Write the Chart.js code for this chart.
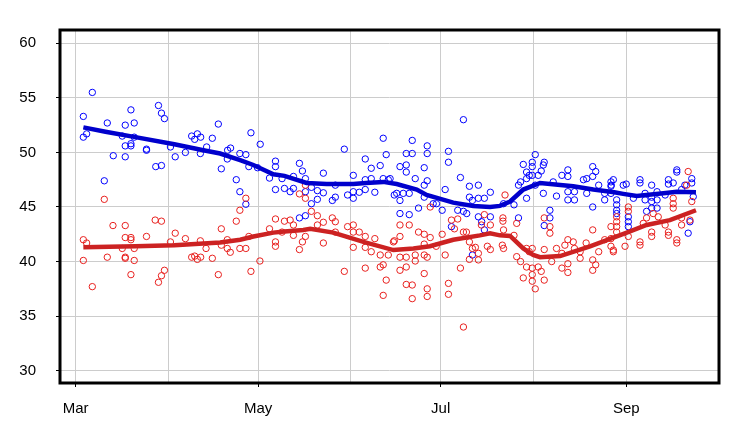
<!DOCTYPE html>
<html>
<head>
<meta charset="utf-8">
<script src="https://cdn.jsdelivr.net/npm/chart.js@4.4.1/dist/chart.umd.min.js"></script>
<style>
html,body{margin:0;padding:0;background:#fff;}
#wrap{width:750px;height:444px;}
</style>
</head>
<body>
<div id="wrap"><canvas id="c" width="750" height="444"></canvas></div>
<script>
// x values are days since March 1
const monthDays = [0, 31, 61, 92, 122, 153, 184];
const monthLabels = ['Mar', '', 'May', '', 'Jul', '', 'Sep'];
const yTicks = [30, 35, 40, 45, 50, 55, 60];

const bluePollDays = [5.6,2.6,2.6,3.7,10.6,18.5,16.6,19.6,15.6,16.6,18.5,18.5,19.6,23.7,23.7,12.6,16.6,27.7,28.7,29.7,26.8,28.7,31.7,33.3,9.6,36.7,38.8,39.8,40.7,41.8,41.7,43.8,45.7,47.7,48.7,50.7,50.8,51.8,54.9,56.9,58.6,57.9,60.8,61.7,53.7,54.9,56.9,64.8,66.8,66.8,66.8,69.0,69.8,71.7,72.8,72.8,74.8,75.8,76.8,76.8,76.8,74.8,78.8,78.8,80.8,80.8,82.8,82.8,85.8,86.8,86.8,89.8,90.9,92.8,92.8,92.8,94.8,96.8,96.8,96.8,98.8,98.8,100,101.8,102.8,103.8,102.8,104.5,106.5,105.1,107.3,108.4,108.4,108.4,109.5,110.5,110.5,110.5,111.5,111.5,112.5,112.5,113.5,114.6,116.5,116.5,117.5,117.5,117.5,116.5,119.5,120.6,122.5,123.5,124.6,124.6,125.6,127.7,128.6,129.6,129.6,130.7,131.6,131.6,132.6,132.6,134.6,134.6,134.6,136.6,138.6,138.6,135.7,136.6,143,146.5,148,148,148.7,149.6,150.7,150.7,150.7,151.6,152.6,152.6,152.6,153.6,153.6,154.6,155.6,156.3,156.6,156.3,158.5,158.5,156.6,159.6,160.7,162.5,164.5,164.5,164.5,164.5,166.7,166.7,169.7,170.8,170.8,172.8,173.8,172.8,172.8,174.8,176.8,176.8,178.9,178.9,178.9,179.7,179,180.8,180.8,180.8,180.8,183,184,184.7,184.7,184.7,186.4,188.6,188.6,190.3,190.3,190.8,192.5,192.5,192.5,192.5,194.3,194.3,194.3,197,198.1,198.1,199.7,200.9,200.9,202.5,203.6,205.9,205.9,206.4,204.7,205.3];
const bluePollValues = [55.5,53.3,51.4,51.7,52.7,53.9,52.5,52.7,51.5,50.6,50.8,50.6,51.4,50.3,50.2,49.7,49.6,54.3,53.6,53.1,48.7,48.8,50.5,49.6,47.4,50.0,51.5,51.2,51.7,51.4,49.9,50.5,51.3,52.6,48.5,49.4,50.2,50.4,49.9,49.8,51.8,48.7,48.6,50.75,47.5,46.4,45.25,47.65,49.2,48.7,46.6,47.6,46.7,46.4,47.8,46.7,49.0,48.3,47.6,46.4,44.2,44.0,45.3,46.8,46.5,45.7,48.1,46.3,45.6,47.0,45.9,50.3,46.1,47.9,46.4,45.8,46.35,49.4,47.5,46.6,48.55,47.6,46.35,48.8,51.3,49.8,47.6,47.5,46.1,47.6,46.25,48.7,45.6,44.4,46.25,49.9,48.85,48.2,46.25,44.3,51.1,49.9,47.6,44.9,48.6,47.0,50.6,49.9,47.4,45.9,45.3,45.3,44.7,46.6,50.1,49.1,43.2,44.7,47.7,53.0,44.6,44.4,46.9,45.9,45.6,40.6,47.0,45.8,44.1,45.8,46.35,44.1,43.65,42.9,45.3,45.2,47.0,44.0,47.3,48.9,48.2,47.6,45.8,47.9,49.1,48.7,47.9,49.8,47.0,47.9,48.3,48.85,49.1,46.25,44.7,44.0,43.3,47.3,46.0,47.9,48.4,47.8,46.4,45.65,46.4,45.65,47.5,47.6,46.25,48.7,48.25,47.8,45.0,47.0,46.25,45.65,47.3,46.9,46.25,47.5,47.0,45.65,45.2,44.7,44.4,47.0,47.1,44.1,43.65,43.2,45.8,47.5,47.2,46.25,45.65,44.6,47.0,45.9,45.5,44.9,46.4,45.65,44.9,46.1,47.5,47.1,47.2,48.4,48.2,46.6,47.0,47.6,47.2,45.95,42.6,43.65];

const redPollDays = [9.6,12.5,16.6,26.6,28.7,2.6,3.7,16.6,18.5,18.5,23.7,15.6,19.6,31.7,33.3,2.6,10.6,16.6,16.6,19.6,18.5,5.6,29.7,28.7,27.7,36.7,41.7,43.6,38.8,39.8,40.7,41.8,45.7,47.7,48.7,48.7,50.7,50.7,51.7,54.9,56.9,57.9,58.6,61.6,53.7,54.9,56.9,64.8,66.8,66.8,66.8,69.8,69.0,71.7,72.8,72.8,74.8,76.8,76.8,78.8,80.8,80.8,82.8,75.8,74.8,76.8,82.8,85.8,86.8,86.8,89.8,90.9,92.8,92.8,92.8,94.8,96.8,96.8,96.8,98.8,100,101.8,101.8,102.8,103.8,102.8,104.5,106.5,108.4,108.4,108.4,110.5,110.5,110.5,111.5,112.5,112.5,113.5,113.5,108.4,106.2,114.6,116.5,116.5,116.5,116.5,117.5,117.5,117.5,118.5,118.5,120.5,122.5,123.5,124.6,124.6,125.6,126.6,127.7,128.6,129.6,129.6,130.6,131.6,131.6,132.6,133.6,134.6,134.6,135.6,136.6,137.6,138.6,138.6,142.6,143.5,142.8,142.8,143,143,146.5,147.4,147.4,148.7,149.6,150.7,150.7,151.6,152.6,152.6,152.6,152.6,153.6,154.6,155.6,156.6,156.6,156.6,158.5,158.5,159.1,160.7,162.5,162.5,163.5,164.5,164.5,164.5,166.3,166.7,168.6,168.6,170.6,172.8,172.8,172.8,174.8,173.8,176.8,178.9,178.9,178.9,180.8,180.8,180.8,180.8,179.7,179.7,183.6,184.7,184.7,184.7,188.6,188.6,189.7,190.8,192.5,192.5,193,194.7,197,198.1,198.1,199.7,199.7,199.7,200.9,200.9,202.5,202.5,204.7,204.2,205.3,205.9];
const redPollValues = [45.7,43.3,43.3,43.8,43.7,42.0,41.7,42.2,42.2,42.0,42.3,41.2,41.2,41.8,42.6,40.1,40.4,40.4,40.3,40.1,38.8,37.7,39.2,38.7,38.1,42.1,41.9,41.2,40.4,40.5,40.2,40.4,40.3,38.8,43.0,41.5,42.0,41.2,40.85,41.2,41.2,42.3,39.1,40.05,43.7,44.7,45.8,43.0,43.9,41.8,41.4,43.7,42.7,43.8,43.35,42.4,46.2,47.0,45.8,44.6,44.2,43.35,43.6,41.8,41.1,42.3,41.7,44.0,43.65,42.7,39.1,43.2,43.35,42.7,41.3,42.7,42.3,41.3,39.4,40.9,42.1,40.6,39.5,39.7,38.3,36.9,40.6,41.9,43.35,42.3,40.4,40.4,39.5,37.9,43.35,37.85,36.6,40.6,40.05,39.2,41.8,42.7,42.5,41.6,40.6,38.9,40.4,37.5,36.8,42.2,45.0,41.4,42.5,40.6,38.0,37.0,43.8,43.0,43.9,39.4,34.0,42.7,42.7,41.8,40.2,41.2,41.3,40.75,40.15,43.35,44.3,41.4,41.1,43.35,41.5,46.1,44.0,43.7,42.9,41.2,42.4,43.5,40.45,40.0,38.5,41.2,39.5,40.9,41.2,39.4,38.8,38.2,37.5,39.5,39.1,38.3,44.0,41.1,43.2,42.6,40.0,41.2,40.75,39.4,41.5,42.0,39.8,39.0,41.8,41.2,40.9,40.3,41.7,42.9,40.15,39.2,40.9,39.7,42.0,43.2,42.1,41.4,44.1,43.65,43.2,42.7,41.05,40.9,41.4,45.0,44.6,42.3,41.8,41.5,43.5,44.0,42.7,42.3,44.4,44.1,43.35,42.7,42.4,45.8,45.3,44.9,42.0,41.7,44.0,43.35,48.25,47.0,43.8,45.5];

const blueTrendDays = [2.6,10,20,33,42.7,48.3,55,59.4,66.1,69.8,77.2,83.9,92.8,97,102.8,107.3,114,117.3,126.2,132.9,138.5,141.8,145.2,149.6,155.2,166.3,173,180,183,187.5,196.4,200.9,207.3];
const blueTrendValues = [52.3,51.9,51.4,50.75,50.2,49.9,49.3,48.85,48.0,47.85,47.2,47.1,47.1,47.2,47.3,47.1,46.6,46.1,45.4,45.1,45.0,45.1,45.5,46.6,47.2,46.9,46.6,46.35,46.2,46.0,46.25,46.4,46.35];

const redTrendDays = [2.6,20,33,48.3,55,59.4,66.1,69.8,76.1,78.4,86.1,96.2,106.2,112.9,118.4,126.2,135.1,138.5,141.8,145.2,149.6,152.9,155.2,161.9,171.9,184.2,190.8,198.6,207.3];
const redTrendValues = [41.3,41.4,41.5,41.75,42.0,42.3,42.65,42.75,42.9,43.0,42.65,41.8,41.05,41.2,41.4,42.0,42.4,42.6,42.4,42.35,41.2,40.6,40.4,40.5,41.4,42.65,43.35,43.8,44.7];

const zip = (xs, ys) => xs.map((x, i) => ({x: x, y: ys[i]}));

const framePlugin = {
  id: 'frame',
  afterDraw(chart) {
    const a = chart.chartArea, ctx = chart.ctx;
    ctx.save();
    ctx.strokeStyle = '#000';
    ctx.lineWidth = 3;
    ctx.strokeRect(a.left, a.top, a.right - a.left, a.bottom - a.top);
    ctx.restore();
  }
};

const fontSpec = {family: "'Liberation Sans', Arial, sans-serif", size: 15};

new Chart(document.getElementById('c'), {
  type: 'scatter',
  data: {
    datasets: [
      {label: 'blueTrend', data: zip(blueTrendDays, blueTrendValues), showLine: true, borderColor: '#0000cc', borderWidth: 4.5, pointRadius: 0, tension: 0, order: 0},
      {label: 'redTrend', data: zip(redTrendDays, redTrendValues), showLine: true, borderColor: '#cc2222', borderWidth: 4.5, pointRadius: 0, tension: 0, order: 1},
      {label: 'redPolls', data: zip(redPollDays, redPollValues), pointRadius: 3.2, pointBorderWidth: 1, borderColor: '#e8201e', backgroundColor: 'rgba(0,0,0,0)', order: 2},
      {label: 'bluePolls', data: zip(bluePollDays, bluePollValues), pointRadius: 3.2, pointBorderWidth: 1, borderColor: '#0000ff', backgroundColor: 'rgba(0,0,0,0)', order: 3}
    ]
  },
  options: {
    responsive: false,
    animation: false,
    layout: {padding: {top: 30, right: 31, left: 0, bottom: 0}},
    plugins: {legend: {display: false}, tooltip: {enabled: false}},
    scales: {
      x: {
        type: 'linear',
        min: -5.2,
        max: 215,
        afterBuildTicks: (axis) => { axis.ticks = monthDays.map(v => ({value: v})); },
        afterFit: (s) => { s.height = 61; },
        ticks: {
          autoSkip: false, maxRotation: 0, color: '#000', font: fontSpec, padding: 13,
          callback: (v, i) => monthLabels[i]
        },
        grid: {
          color: '#cccccc', lineWidth: 1, drawTicks: true, tickLength: 4,
          tickColor: (ctx) => (monthLabels[ctx.index] ? '#000' : 'rgba(0,0,0,0)')
        },
        border: {display: false}
      },
      y: {
        min: 28.87,
        max: 61.22,
        afterBuildTicks: (axis) => { axis.ticks = yTicks.map(v => ({value: v})); },
        afterFit: (s) => { s.width = 60; },
        ticks: {color: '#000', font: fontSpec, padding: 20},
        grid: {color: '#cccccc', lineWidth: 1, drawTicks: true, tickLength: 4, tickColor: '#000'},
        border: {display: false}
      }
    }
  },
  plugins: [framePlugin]
});
</script>
</body>
</html>
